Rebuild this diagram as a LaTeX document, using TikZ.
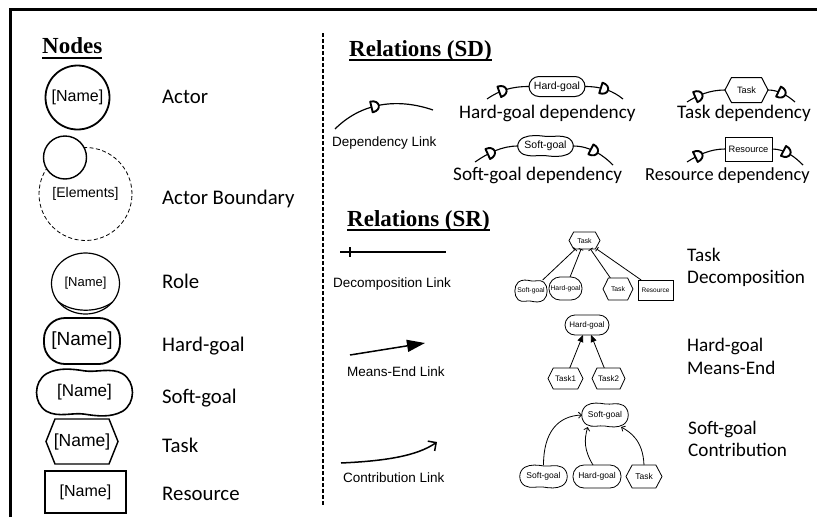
\documentclass[tikz,border=0pt]{standalone}
\usepackage{fontspec}
\setmainfont{Carlito}
\newfontfamily\arialf{Liberation Sans}
\newfontfamily\timesf{Liberation Serif}
\usetikzlibrary{arrows.meta,calc,decorations.markings,shapes.geometric}

% hexagon outline around a (borderless) node; #3 = inset as fraction of width
\newcommand\hexoutline[3][]{%
  \draw[#1] (#2.west) -- ($(#2.north west)!#3!(#2.north east)$)
    -- ($(#2.north east)!#3!(#2.north west)$) -- (#2.east)
    -- ($(#2.south east)!#3!(#2.south west)$)
    -- ($(#2.south west)!#3!(#2.south east)$) -- cycle;}

% wavy soft-goal outline around a node; #3,#4 = half width, half height
\newcommand\cloudoutline[4][]{%
  \begin{scope}[shift={(#2.center)}, x=#3pt, y=#4pt]
    \draw[#1] (-0.8,0.8) .. controls (-0.55,1.08) and (-0.25,1) .. (0,0.92)
      .. controls (0.25,0.84) and (0.55,1.08) .. (0.8,0.8)
      .. controls (1.08,0.45) and (1.08,-0.45) .. (0.8,-0.8)
      .. controls (0.55,-1.08) and (0.25,-1) .. (0,-0.92)
      .. controls (-0.25,-0.84) and (-0.55,-1.08) .. (-0.8,-0.8)
      .. controls (-1.08,-0.45) and (-1.08,0.45) .. (-0.8,0.8) -- cycle;
  \end{scope}}

% the "D" glyph placed on dependency links
\newcommand\dglyph{\draw[line width=1.9pt, fill=white, line join=round]
  (-4.5,-5.5) -- (-4.5,5.5) .. controls (5.5,5.5) and (5.5,-5.5) .. (-4.5,-5.5) -- cycle;}

\tikzset{
  lbl/.style={anchor=base west, inner sep=0pt, font=\fontsize{19.2}{23}\selectfont},
  nlbl/.style={lbl, font=\fontsize{20.8}{24}\selectfont},
  hdr/.style={anchor=base west, inner sep=0pt, font=\timesf\bfseries\fontsize{23}{27}\selectfont},
  hdrline/.style={line width=2pt},
  linklbl/.style={anchor=base west, inner sep=0pt, font=\arialf\fontsize{13.5}{16}\selectfont},
  shp/.style={inner sep=0pt, outer sep=0pt},
  txt/.style={font=\arialf\fontsize{#1}{#1}\selectfont},
  depl/.style={postaction={decorate},
    decoration={markings, mark=at position #1 with {\dglyph}}},
  dep/.style={line width=1.1pt},
  decl/.style={line width=0.8pt, -{Bar[width=5pt]}},
  mel/.style={line width=0.8pt, -{Triangle[length=7pt,width=6pt]}},
  ctl/.style={line width=0.8pt, -{Straight Barb[length=3pt,width=6pt]}},
}

\begin{document}
\begin{tikzpicture}[x=1pt, y=-1pt]
\useasboundingbox (0,0) rectangle (817,517);

% frame and divider
\draw[line width=3pt] (10,517) -- (10,9.5) -- (817,9.5);
\draw[line width=1.1pt, dash pattern=on 4pt off 2pt] (323,33) -- (323,505);

% ---------- Nodes ----------
\node[hdr] (hNodes) at (42,53) {Nodes};
\draw[hdrline] ($(hNodes.base west)+(0,4.5)$) -- ($(hNodes.base east)+(0,4.5)$);

\node[shp, circle, draw, line width=1.8pt, minimum size=64pt, txt=16] (actor) at (77.5,97.5) {[Name]};
\node[nlbl] (lActor) at (162,103) {Actor};

\node[shp, circle, draw, dash pattern=on 4pt off 2.5pt, line width=0.8pt, minimum size=93pt, txt=14] (bnd) at (85.5,194) {[Elements]};
\node[shp, circle, draw, fill=white, line width=1.4pt, minimum size=43pt] (bndactor) at (65,157.5) {};
\node[nlbl] (lBnd) at (162,204) {Actor Boundary};

\node[shp, ellipse, draw, line width=1.2pt, minimum width=68pt, minimum height=61pt, txt=13] (role) at (85.5,283.5) {\raisebox{3pt}{[Name]}};
\draw[line width=1.2pt] (role.213) .. controls (72,313) and (98,313) .. (role.325);
\node[nlbl] (lRole) at (162,288) {Role};

\node[shp, rectangle, rounded corners=21pt, draw, line width=1.8pt, minimum width=76pt, minimum height=46pt, txt=19] (hg) at (82,341) {[Name]};
\node[nlbl] (lHg) at (162,351) {Hard-goal};

\node[shp, minimum width=95pt, minimum height=47pt, txt=17] (sg) at (84.5,392.5) {[Name]};
\cloudoutline[line width=1.6pt]{sg}{47.5}{23.5}
\node[nlbl] (lSg) at (162,403) {Soft-goal};

\node[shp, minimum width=72pt, minimum height=45pt, txt=17.5] (tk) at (82,441.5) {[Name]};
\hexoutline[line width=1.4pt]{tk}{0.125}
\node[nlbl] (lTk) at (162,452) {Task};

\node[shp, rectangle, draw, line width=1.6pt, minimum width=81pt, minimum height=42pt, txt=16] (rs) at (85.5,492) {[Name]};
\node[nlbl] (lRs) at (162,500) {Resource};

% ---------- Relations (SD) ----------
\node[hdr] (hSD) at (349,56) {Relations (SD)};
\draw[hdrline] ($(hSD.base west)+(0,4)$) -- ($(hSD.base east)+(0,4)$);

\coordinate (dlA) at (335,129);
\coordinate (dlB) at (433,110);
\draw[line width=1.2pt, depl=0.45] (dlA) .. controls (360,104) and (395,97) .. (dlB);
\node[linklbl] (lDl) at (332,146) {Dependency Link};

% hard-goal dependency
\node[shp, rectangle, rounded corners=10pt, draw, line width=1pt, minimum width=56pt, minimum height=20pt, txt=10.5] (hgd) at (557,86.5) {Hard-goal};
\coordinate (hgdL) at (487,99);
\coordinate (hgdR) at (623,99);
\draw[dep, depl=0.42] (hgdL) .. controls (500,90) and (512,86.5) .. (hgd.west);
\draw[dep, depl=0.5] (hgd.east) .. controls (602,86.5) and (613,91) .. (hgdR);
\node[lbl] (lHgd) at (459,118) {Hard-goal dependency};

% task dependency
\node[shp, minimum width=43pt, minimum height=25pt, txt=9.2] (tkd) at (746.5,90) {Task};
\hexoutline[line width=1pt]{tkd}{0.15}
\coordinate (tkdL) at (687,102);
\coordinate (tkdR) at (795,102);
\draw[dep, depl=0.35] (tkdL) .. controls (698,95) and (710,90) .. (tkd.west);
\draw[dep, depl=0.5] (tkd.east) .. controls (778,90) and (787,95) .. (tkdR);
\node[lbl] (lTkd) at (677,118) {Task dependency};

% soft-goal dependency
\node[shp, minimum width=55pt, minimum height=21pt, txt=10.5] (sgd) at (545.5,146) {Soft-goal};
\cloudoutline[line width=1pt]{sgd}{27.5}{10.5}
\coordinate (sgdL) at (475,162);
\coordinate (sgdR) at (613,165);
\draw[dep, depl=0.42] (sgdL) .. controls (488,153) and (502,146) .. (sgd.west);
\draw[dep, depl=0.5] (sgd.east) .. controls (590,146) and (603,155) .. (sgdR);
\node[lbl] (lSgd) at (453,180) {Soft-goal dependency};

% resource dependency
\node[shp, rectangle, draw, line width=1pt, minimum width=47pt, minimum height=24pt, txt=9.3] (rsd) at (748.5,149) {Resource};
\coordinate (rsdL) at (687,162);
\coordinate (rsdR) at (803,165);
\draw[dep, depl=0.35] (rsdL) .. controls (698,155) and (710,149) .. (rsd.west);
\draw[dep, depl=0.45] (rsd.east) .. controls (785,149) and (795,157) .. (rsdR);
\node[lbl, font=\fontsize{18.4}{22}\selectfont] (lRsd) at (645,180) {Resource dependency};

% ---------- Relations (SR) ----------
\node[hdr] (hSR) at (347,226) {Relations (SR)};
\draw[hdrline] ($(hSR.base west)+(0,4)$) -- ($(hSR.base east)+(0,4)$);

% decomposition link
\coordinate (dcA) at (340,252);
\coordinate (dcB) at (446,252);
\draw[line width=1.4pt, postaction={decorate},
  decoration={markings, mark=at position 10pt with {\draw[line width=1.2pt] (0,-5) -- (0,5);}}]
  (dcA) -- (dcB);
\node[linklbl] (lDc) at (333,287) {Decomposition Link};

% task decomposition example
\node[shp, minimum width=31pt, minimum height=17pt, txt=7] (tdT) at (584.5,240.5) {Task};
\hexoutline[line width=0.8pt]{tdT}{0.15}
\node[shp, minimum width=32pt, minimum height=22pt, txt=6.8] (tdS) at (531,291) {Soft-goal};
\cloudoutline[line width=0.8pt]{tdS}{16}{11}
\node[shp, rectangle, rounded corners=11pt, draw, line width=0.8pt, minimum width=33pt, minimum height=23pt, txt=6.8] (tdH) at (565.5,288.5) {Hard-goal};
\node[shp, minimum width=30pt, minimum height=22pt, txt=6.8] (tdK) at (618,289) {Task};
\hexoutline[line width=0.8pt]{tdK}{0.18}
\node[shp, rectangle, draw, line width=0.8pt, minimum width=35pt, minimum height=20pt, txt=6.5] (tdR) at (655.5,290) {Resource};
\draw[decl] (tdS) -- (tdT);
\draw[decl] (tdH) -- (tdT);
\draw[decl] (tdK) -- (tdT);
\draw[decl] (tdR) -- (tdT);
\node[lbl] (lTd1) at (687,261) {Task};
\node[lbl] (lTd2) at (687,283) {Decomposition};

% means-end link
\coordinate (meA) at (350,355);
\coordinate (meB) at (425,343);
\draw[line width=1.5pt, -{Triangle[length=18pt,width=12pt]}] (meA) -- (meB);
\node[linklbl] (lMe) at (347,376) {Means-End Link};

% means-end example
\node[shp, rectangle, rounded corners=10pt, draw, line width=0.8pt, minimum width=44pt, minimum height=20pt, txt=8] (meH) at (587,325) {Hard-goal};
\node[shp, minimum width=35pt, minimum height=21pt, txt=8] (meT1) at (565.5,378.5) {Task1};
\hexoutline[line width=0.8pt]{meT1}{0.15}
\node[shp, minimum width=33pt, minimum height=21pt, txt=8] (meT2) at (608.5,378.5) {Task2};
\hexoutline[line width=0.8pt]{meT2}{0.15}
\draw[mel] (meT1) -- (meH);
\draw[mel] (meT2) -- (meH);
\node[lbl] (lMe1) at (687,351) {Hard-goal};
\node[lbl] (lMe2) at (687,374) {Means-End};

% contribution link
\coordinate (ctA) at (341,463);
\coordinate (ctB) at (437,442);
\draw[line width=1.5pt, -{Straight Barb[length=6pt,width=12pt]}] (ctA) .. controls (385,461) and (417,456) .. (ctB);
\node[linklbl] (lCt) at (343,482) {Contribution Link};

% contribution example
\node[shp, minimum width=46pt, minimum height=24pt, txt=8.5] (cC) at (605,415) {Soft-goal};
\cloudoutline[line width=0.8pt]{cC}{23}{12}
\node[shp, minimum width=47pt, minimum height=23pt, txt=8.5] (cS) at (543.5,476.5) {Soft-goal};
\cloudoutline[line width=0.8pt]{cS}{23.5}{11.5}
\node[shp, rectangle, rounded corners=11pt, draw, line width=0.8pt, minimum width=48pt, minimum height=23pt, txt=8.5] (cH) at (597,476.5) {Hard-goal};
\node[shp, minimum width=36pt, minimum height=23pt, txt=8.5] (cK) at (644,476.5) {Task};
\hexoutline[line width=0.8pt]{cK}{0.17}
\draw[ctl] (cS.north) .. controls (543.5,432) and (558,416) .. (cC.west);
\draw[ctl] ($(cH.north)+(-4,0)$) .. controls (584,450) and (584,440) .. ($(cC.south)!0.75!(cC.south west)$);
\draw[ctl] (cK.north) .. controls (643,440) and (630,432) .. ($(cC.south)!0.7!(cC.south east)$);
\node[lbl] (lCt1) at (688,434) {Soft-goal};
\node[lbl] (lCt2) at (688,456) {Contribution};
\end{tikzpicture}
\end{document}
